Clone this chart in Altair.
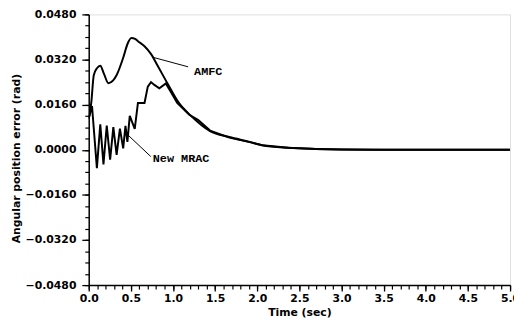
import altair as alt
import pandas as pd

# AMFC curve
t_amfc = [0.0, 0.03, 0.06, 0.10, 0.137, 0.18, 0.234, 0.29, 0.33, 0.41, 0.46, 0.506, 0.55, 0.584,
          0.662, 0.74, 0.818, 0.935, 1.07, 1.21, 1.44, 1.67, 1.91, 2.06, 2.37, 2.69, 3.0, 3.5,
          4.0, 4.5, 5.0]
v_amfc = [0.0110, 0.0166, 0.0264, 0.0290, 0.0298, 0.0270, 0.0236, 0.0246, 0.0264, 0.0327, 0.0375,
          0.0396, 0.0393, 0.0385, 0.0367, 0.0339, 0.0298, 0.0235, 0.0166, 0.0121, 0.0066, 0.0045,
          0.0028, 0.0016, 0.0007, 0.0003, 0.0001, 0.0, 0.0, 0.0, 0.0]

# New MRAC curve
t_mrac = [0.0, 0.039, 0.097, 0.137, 0.175, 0.214, 0.254, 0.292, 0.331, 0.370, 0.409, 0.436, 0.459,
          0.487, 0.546, 0.584, 0.662, 0.701, 0.739, 0.779, 0.838, 0.915, 0.97, 1.05, 1.19, 1.30,
          1.44, 1.67, 1.91, 2.06, 2.37, 2.69, 3.0, 3.5, 4.0, 4.5, 5.0]
v_mrac = [0.0110, 0.0155, -0.0065, 0.0090, -0.0052, 0.0086, -0.0035, 0.0080, -0.0018, 0.0075, 0.0005,
          0.0085, 0.0028, 0.0120, 0.0074, 0.0166, 0.0166, 0.0224, 0.0240, 0.0230, 0.0218, 0.0235,
          0.0207, 0.0166, 0.0125, 0.0105, 0.0068, 0.0043, 0.0027, 0.0016, 0.0007, 0.0003, 0.0001,
          0.0, 0.0, 0.0, 0.0]

# annotations
ann_labels = ["AMFC", "New MRAC"]
ann_x0 = [0.76, 0.467]
ann_y0 = [0.0328, 0.0052]
ann_x1 = [1.18, 0.736]
ann_y1 = [0.0294, -0.0024]
ann_tx = [1.25, 0.76]
ann_ty = [0.0278, -0.0030]

y_major = [-0.048, -0.032, -0.016, 0.0, 0.016, 0.032, 0.048]
y_minor = [round(-0.048 + 0.004 * i, 4) for i in range(25)]
x_major = [0.0, 0.5, 1.0, 1.5, 2.0, 2.5, 3.0, 3.5, 4.0, 4.5, 5.0]
x_minor = [round(0.1 * i, 1) for i in range(51)]

amfc = pd.DataFrame({"t": t_amfc, "v": v_amfc})
mrac = pd.DataFrame({"t": t_mrac, "v": v_mrac})
ann = pd.DataFrame({"label": ann_labels, "x0": ann_x0, "y0": ann_y0, "x1": ann_x1,
                    "y1": ann_y1, "tx": ann_tx, "ty": ann_ty})

xs = alt.Scale(domain=[0, 5], nice=False, zero=False)
ys = alt.Scale(domain=[-0.048, 0.048], nice=False, zero=False)

font = "DejaVu Sans"

x_axis = alt.Axis(values=x_major, format=".1f", title="Time (sec)", tickSize=6, tickWidth=1.3,
                  labelFontSize=11, labelFontWeight="bold", labelFont=font, labelPadding=2,
                  titleFont=font, titleFontSize=11, titleFontWeight="bold", titlePadding=3,
                  domainWidth=1.5, grid=False, labelColor="black", titleColor="black",
                  tickColor="black", domainColor="black", labelFlush=False, orient="bottom")
y_axis = alt.Axis(values=y_major, format=".4f", title="Angular position error (rad)", tickSize=7,
                  tickWidth=1.3, labelFontSize=11, labelFontWeight="bold", labelFont=font,
                  labelPadding=6, titleFont=font, titleFontSize=11, titleFontWeight="bold",
                  titlePadding=4, titleY=146, domainWidth=1.5, grid=False, labelColor="black",
                  titleColor="black", tickColor="black", domainColor="black", labelFlush=False,
                  orient="left")

x_axis_minor = alt.Axis(values=x_minor, labels=False, title="", tickSize=4, tickWidth=1.2,
                        domain=False, grid=False, tickColor="black", orient="bottom")
y_axis_minor = alt.Axis(values=y_minor, labels=False, title="", tickSize=4, tickWidth=1.2,
                        domain=False, grid=False, tickColor="black", orient="left")

line_amfc = alt.Chart(amfc).mark_line(color="black", strokeWidth=2, clip=True,
                                      interpolate="monotone").encode(
    x=alt.X("t:Q", scale=xs, axis=x_axis),
    y=alt.Y("v:Q", scale=ys, axis=y_axis),
)
line_mrac = alt.Chart(mrac).mark_line(color="black", strokeWidth=2, clip=True).encode(
    x=alt.X("t:Q", scale=xs, axis=None),
    y=alt.Y("v:Q", scale=ys, axis=None),
)

minor = alt.Chart(pd.DataFrame({"t": [0.0], "v": [0.0]})).mark_point(opacity=0).encode(
    x=alt.X("t:Q", scale=xs, axis=x_axis_minor),
    y=alt.Y("v:Q", scale=ys, axis=y_axis_minor),
)

leaders = alt.Chart(ann).mark_rule(color="black", strokeWidth=1).encode(
    x=alt.X("x0:Q", scale=xs, axis=None), y=alt.Y("y0:Q", scale=ys, axis=None),
    x2="x1:Q", y2="y1:Q"
)

texts = alt.Chart(ann).mark_text(align="left", baseline="middle", font="Liberation Mono",
                                 fontWeight="bold", fontSize=12, color="black").encode(
    x=alt.X("tx:Q", scale=xs, axis=None), y=alt.Y("ty:Q", scale=ys, axis=None), text="label:N"
)

chart = alt.layer(line_amfc, line_mrac, minor, leaders, texts).resolve_axis(
    x="independent", y="independent"
).properties(
    width=428, height=275,
    autosize=alt.AutoSizeParams(type="none"),
    padding={"left": 82, "top": 4, "right": 4, "bottom": 36},
).configure_view(stroke=None).configure(background="white")

chart.save("out.html", embed_options={"renderer": "svg", "actions": False})
